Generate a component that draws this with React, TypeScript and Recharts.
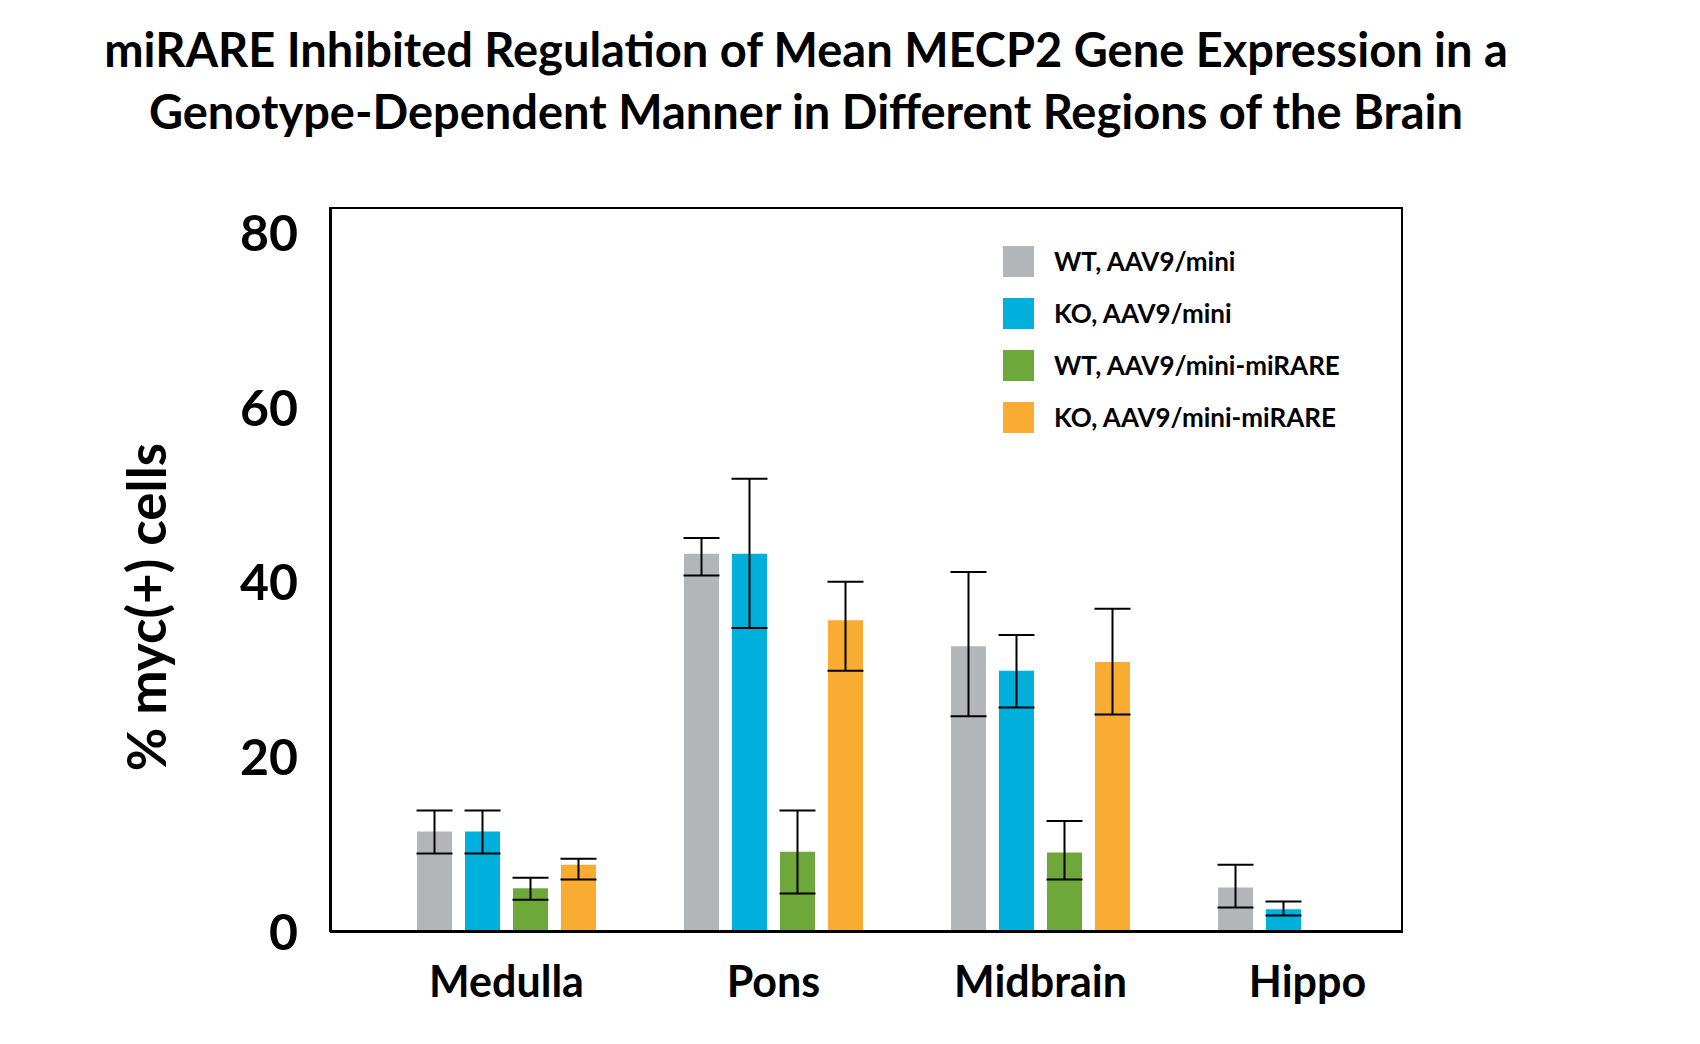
import { ComposedChart, Bar, XAxis, YAxis, ErrorBar } from 'recharts'

const regions = ['Medulla', 'Pons', 'Midbrain', 'Hippo']
const seriesNames = ['WT, AAV9/mini', 'KO, AAV9/mini', 'WT, AAV9/mini-miRARE', 'KO, AAV9/mini-miRARE']
const colors = ['#b3b6b8', '#00b0dc', '#6fa83a', '#f8ac32']
const yTicks = [0, 20, 40, 60, 80]

// means
const wtMini = [11.5, 43.3, 32.7, 5.1]
const koMini = [11.5, 43.3, 29.9, 2.6]
const wtMiRARE = [5.0, 9.2, 9.1, null]
const koMiRARE = [7.7, 35.7, 30.9, null]
// error bar ends [low, high]
const wtMiniErr = [[9, 13.9], [40.8, 45.1], [24.7, 41.2], [2.8, 7.7]]
const koMiniErr = [[9, 13.9], [34.8, 51.9], [25.7, 34], [1.9, 3.5]]
const wtMiRAREErr = [[3.7, 6.2], [4.4, 13.9], [6, 12.7], null]
const koMiRAREErr = [[6, 8.4], [29.9, 40.1], [24.9, 37], null]

const means = [wtMini, koMini, wtMiRARE, koMiRARE]
const errs = [wtMiniErr, koMiniErr, wtMiRAREErr, koMiRAREErr]

const data = regions.map((r, i) => {
  const row: Record<string, unknown> = { region: r }
  means.forEach((m, s) => {
    const v = m[i]
    const e = errs[s][i]
    row['s' + s] = v
    row['e' + s] = v != null && e ? [v - e[0], e[1] - v] : null
  })
  return row
})

const font = 'Lato, "Open Sans", sans-serif'

export default function App() {
  return (
    <div style={{ position: 'absolute', left: 0, top: 0, width: 1700, height: 1044, background: '#fff', fontFamily: font }}>
      <div style={{ position: 'absolute', left: 0, width: 1612, top: 18, textAlign: 'center', fontSize: 47, fontWeight: 700, lineHeight: '62px', color: '#000' }}>
        miRARE Inhibited Regulation of Mean MECP2 Gene Expression in a<br />
        Genotype-Dependent Manner in Different Regions of the Brain
      </div>
      <div style={{ position: 'absolute', left: 145, top: 607, transform: 'translate(-50%, -50%) rotate(-90deg)', fontSize: 53, fontWeight: 700, whiteSpace: 'nowrap' }}>
        % myc(+) cells
      </div>
      <ComposedChart
        width={1700}
        height={1044}
        data={data}
        margin={{ top: 207, left: 250, right: 297, bottom: 52 }}
        barSize={35}
        barGap={13}
      >
        <XAxis
          dataKey="region"
          tickLine={false}
          axisLine={{ stroke: '#000', strokeWidth: 2 }}
          height={60}
          padding={{ left: 43, right: -38 }}
          tick={{ fill: '#000', fontSize: 43, fontWeight: 700, fontFamily: font }}
          tickMargin={28}
        />
        <YAxis
          domain={[0, 83]}
          ticks={yTicks}
          allowDataOverflow
          width={80}
          tickLine={false}
          axisLine={{ stroke: '#000', strokeWidth: 2 }}
          tick={{ fill: '#000', fontSize: 50, fontWeight: 700, fontFamily: font }}
          tickMargin={26}
        />
        {seriesNames.map((n, s) => (
          <Bar key={n} dataKey={'s' + s} name={n} fill={colors[s]} isAnimationActive={false}>
            <ErrorBar dataKey={'e' + s} width={18} stroke="#000" strokeWidth={2} />
          </Bar>
        ))}
      </ComposedChart>
      <div style={{ position: 'absolute', left: 330, top: 207, width: 1073, height: 725, border: '2px solid #000', boxSizing: 'border-box', pointerEvents: 'none' }} />
      {seriesNames.map((n, s) => (
        <div key={n} style={{ position: 'absolute', left: 1003, top: 245 + s * 52, display: 'flex', alignItems: 'center' }}>
          <div style={{ width: 31, height: 31, background: colors[s] }} />
          <span style={{ marginLeft: 20, fontSize: 26, fontWeight: 700 }}>{n}</span>
        </div>
      ))}
    </div>
  )
}
